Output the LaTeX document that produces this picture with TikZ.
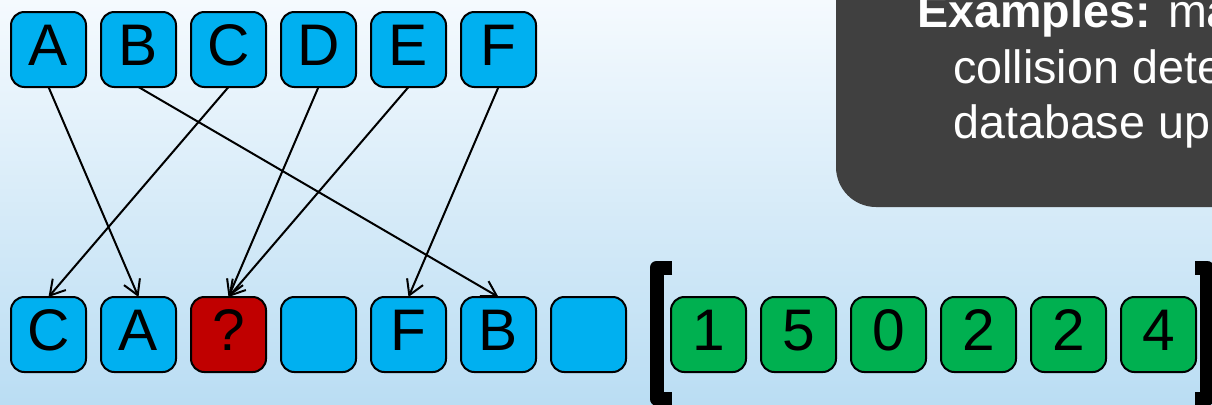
\documentclass[tikz,border=0pt]{standalone}
\usepackage{fontspec}
\setmainfont{Liberation Sans}
\usetikzlibrary{positioning, arrows.meta}
\definecolor{cellblue}{RGB}{0,176,240}
\definecolor{missred}{RGB}{192,0,0}
\definecolor{cntgreen}{RGB}{0,176,80}
\definecolor{panelgray}{RGB}{64,64,64}
\definecolor{bgtop}{RGB}{245,250,254}
\definecolor{bgbottom}{RGB}{186,221,243}
\tikzset{
  cellbox/.style = {rectangle, draw=black, line width=1.5pt, fill=cellblue,
                    rounded corners=10pt, minimum width=56.25pt,
                    minimum height=56.25pt, inner sep=0pt, outer sep=0pt,
                    text height=30pt, text depth=6pt,
                    font=\fontsize{44}{50}\selectfont},
  missbox/.style = {cellbox, fill=missred},
  cntbox/.style = {cellbox, fill=cntgreen},
  maparrow/.style = {-{Straight Barb[length=11pt,width=13pt]}, line width=1.5pt},
  paneltext/.style = {anchor=base west, inner sep=0pt, text=white,
                      font=\fontsize{35}{42}\selectfont},
  bracket/.style = {line width=10.5pt, line join=round}
}

\begin{document}
\begin{tikzpicture}[x=0.75pt, y=-0.75pt, node distance=157.5pt and 11.25pt]
\useasboundingbox (0,0) rectangle (1212,404);
\shade[top color=bgtop, bottom color=bgbottom] (0,0) rectangle (1212,404);

% dark panel in the corner
\begin{scope}
\clip (0,0) rectangle (1212,404);
\fill[panelgray, rounded corners=30pt] (836,-60) rectangle (1290,207);
\node[paneltext] (pex)  at (917,27)  {\textbf{Examples:} ma};
\node[paneltext] (pcol) at (953,83)  {collision dete};
\node[paneltext] (pdb)  at (953,138) {database up};
\end{scope}

% keys
\node[cellbox] (ia) at (48.5,49.5) {A};
\node[cellbox, right=of ia] (ib) {B};
\node[cellbox, right=of ib] (ic) {C};
\node[cellbox, right=of ic] (id) {D};
\node[cellbox, right=of id] (ie) {E};
\node[cellbox, right=of ie] (if) {F};

% slots
\node[cellbox, below=of ia] (o1) {C};
\node[cellbox, right=of o1] (o2) {A};
\node[missbox, right=of o2] (o3) {?};
\node[cellbox, right=of o3] (o4) {};
\node[cellbox, right=of o4] (o5) {F};
\node[cellbox, right=of o5] (o6) {B};
\node[cellbox, right=of o6] (o7) {};

% counts
\node[cntbox, right=33.75pt of o7] (c1) {1};
\node[cntbox, right=of c1] (c2) {5};
\node[cntbox, right=of c2] (c3) {0};
\node[cntbox, right=of c3] (c4) {2};
\node[cntbox, right=of c4] (c5) {2};
\node[cntbox, right=of c5] (c6) {4};

\draw[bracket] (672,267.5) -- (656.5,267.5) -- (656.5,398.5) -- (672,398.5);
\draw[bracket] (1195,267.5) -- (1207,267.5) -- (1207,398.5) -- (1195,398.5);

\draw[maparrow] (ia.south) -- (o2.north);
\draw[maparrow] (ib.south) -- (o6.north);
\draw[maparrow] (ic.south) -- (o1.north);
\draw[maparrow] (id.south) -- (o3.north);
\draw[maparrow] (ie.south) -- (o3.north);
\draw[maparrow] (if.south) -- (o5.north);
\end{tikzpicture}
\end{document}
